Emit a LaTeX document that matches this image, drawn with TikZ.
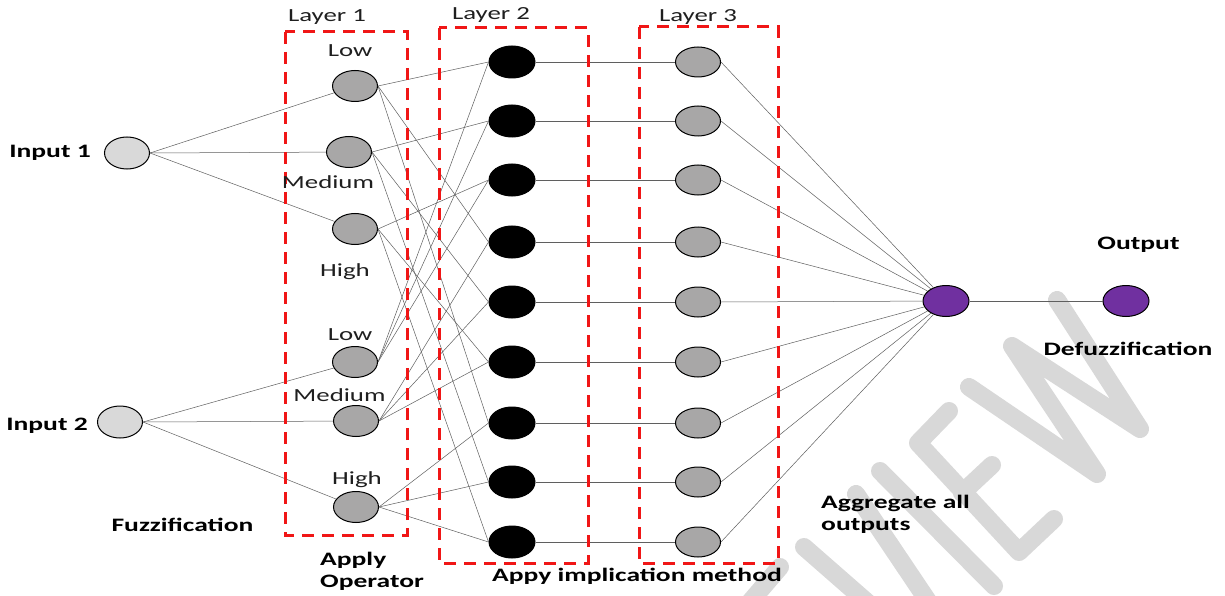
\documentclass[tikz,border=0pt]{standalone}
\usepackage{fontspec}
\setmainfont{Carlito}
\usepackage{graphicx}
\usetikzlibrary{shapes.geometric}

\definecolor{mfgray}{RGB}{168,167,167}
\definecolor{ingray}{RGB}{217,217,217}
\definecolor{aggpurple}{RGB}{112,48,160}
\definecolor{boxred}{RGB}{240,22,22}
\definecolor{wmgray}{RGB}{216,216,216}
\definecolor{wirecol}{RGB}{95,95,95}

% labels are set wide, stretched horizontally
\newcommand{\wide}[1]{\scalebox{1.45}[1]{#1}}

\tikzset{
  neuron/.style={ellipse, draw=black, line width=1pt, inner sep=0pt,
                 minimum width=45pt, minimum height=31pt},
  inputnode/.style={neuron, fill=ingray, minimum height=32pt},
  mfnode/.style={neuron, fill=mfgray},
  rulenode/.style={neuron, fill=black, minimum width=46pt, minimum height=32pt},
  outnode/.style={neuron, fill=aggpurple, minimum width=46pt},
  layerbox/.style={draw=boxred, line width=3pt, dash pattern=on 12pt off 8pt},
  wire/.style={draw=wirecol, line width=0.5pt},
  lbl/.style={inner sep=0pt, anchor=base, text=black!88,
              font=\fontsize{18.5}{20}\selectfont},
  blbl/.style={inner sep=0pt, anchor=base, text=black,
               font=\fontsize{19}{21}\selectfont\bfseries},
  blbll/.style={blbl, anchor=base west},
  wmark/.style={draw=wmgray, line width=18pt, line cap=round, line join=round},
}

\begin{document}
\begin{tikzpicture}[x=1pt,y=-1pt]
\useasboundingbox (0,0) rectangle (1225,596);
\fill[white] (0,0) rectangle (1225,596);

% ---- background watermark strokes ----
\begin{scope}
  \clip (0,0) rectangle (1225,596);
  \draw[wmark] (969,387) -- (1097,474) -- (1012,346) -- (1140,429) -- (1057,300);
  \draw[wmark] (949,411) -- (918,443) -- (1019,552) -- (1054,519);
  \draw[wmark] (962,493) -- (992,465);
  \draw[wmark] (880,471) -- (994,586);
  \draw[wmark] (856,494) -- (942,622);
  \draw[wmark] (804,547) -- (892,624);
  \draw[wmark] (780,567) -- (738,616);
\end{scope}

% ---- neurons ----
\node[inputnode] (in1) at (127,153) {};
\node[inputnode] (in2) at (120,422) {};

\node[mfnode] (m1) at (355,86)  {};
\node[mfnode] (m2) at (349,152) {};
\node[mfnode] (m3) at (355,229) {};
\node[mfnode] (m4) at (355,362) {};
\node[mfnode] (m5) at (356,421) {};
\node[mfnode] (m6) at (356,507) {};

\foreach \yy [count=\i] in {62,121,180,242,302,362,423,482,542} {
  \node[rulenode] (r\i) at (512,\yy) {};
  \node[mfnode, minimum height=30pt] (q\i) at (698,\yy) {};
}

\node[outnode] (agg) at (946,301) {};
\node[outnode] (out) at (1126,301) {};

% ---- connections ----
\foreach \i in {1,2,3} \draw[wire] (in1.east) -- (m\i);
\foreach \i in {4,5,6} \draw[wire] (in2.east) -- (m\i);

% first input: membership i feeds rules i, i+3, i+6
\foreach \i in {1,2,3} {
  \foreach \k in {0,3,6} {
    \pgfmathtruncatemacro{\rr}{\i+\k}
    \draw[wire] (m\i.east) -- (r\rr.west);
  }
}
% second input: membership j feeds rules 3j-2 .. 3j
\foreach \j in {1,2,3} {
  \foreach \k in {1,2,3} {
    \pgfmathtruncatemacro{\rr}{3*(\j-1)+\k}
    \pgfmathtruncatemacro{\mm}{\j+3}
    \draw[wire] (m\mm.east) -- (r\rr.west);
  }
}
\foreach \i in {1,...,9} {
  \draw[wire] (r\i.east) -- (q\i.west);
  \draw[wire] (q\i.east) -- (agg);
}
\draw[wire] (agg.east) -- (out.west);

% ---- layer frames ----
\draw[layerbox] (285,32) rectangle (407,535);
\draw[layerbox] (439,28) rectangle (588,563);
\draw[layerbox] (639,27) rectangle (778,563);

% ---- labels ----
\node[lbl] (tl1) at (327,21.5) {\wide{Layer 1}};
\node[lbl] (tl2) at (491,19.5) {\wide{Layer 2}};
\node[lbl] (tl3) at (698,21.5) {\wide{Layer 3}};

\node[lbl] (tlo1) at (350,57)    {\wide{Low}};
\node[lbl] (tme1) at (328,188.5) {\wide{Medium}};
\node[lbl] (thi1) at (345,276.5) {\wide{High}};
\node[lbl] (tlo2) at (350,340)   {\wide{Low}};
\node[lbl] (tme2) at (339.5,401.5) {\wide{Medium}};
\node[lbl] (thi2) at (357,484)   {\wide{High}};

\node[blbl] (tin1) at (50,158)  {\wide{Input 1}};
\node[blbl] (tin2) at (47,430)  {\wide{Input 2}};
\node[blbl] (tfuz) at (182.5,531.5) {\wide{Fuzzification}};
\node[blbll] (tap1) at (320,565)  {\wide{Apply}};
\node[blbll] (tap2) at (320,587.5) {\wide{Operator}};
\node[blbll] (timp) at (492,581.5) {\wide{Appy implication method}};
\node[blbll] (tag1) at (821,508.3) {\wide{Aggregate all}};
\node[blbll] (tag2) at (821,530)  {\wide{outputs}};
\node[blbl] (tout) at (1138.5,249.5) {\wide{Output}};
\node[blbl] (tdef) at (1128,355) {\wide{Defuzzification}};
\end{tikzpicture}
\end{document}
